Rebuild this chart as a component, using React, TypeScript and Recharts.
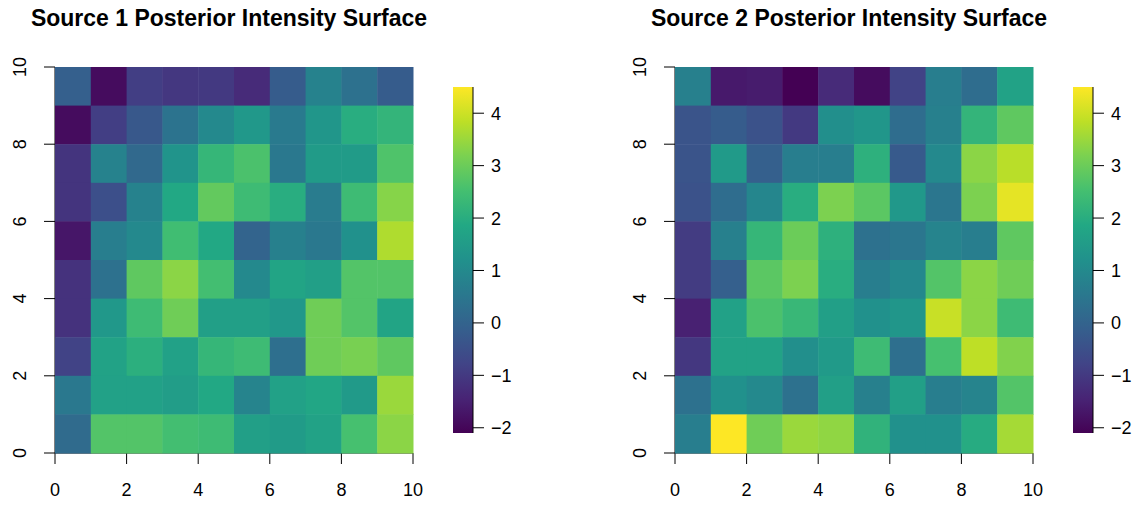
import React from "react";
import { Bar, BarChart, Scatter, ScatterChart, XAxis, YAxis } from "recharts";

// grid values, rows listed from top (y = 9) down to bottom (y = 0), columns x = 0..9
const source1Rows = [
  [-0.1, -1.9, -0.9, -1.05, -1.0, -1.3, -0.2, 0.8, 0.35, -0.2],
  [-1.9, -0.9, -0.3, 0.4, 1.0, 1.4, 0.6, 1.35, 2.0, 2.2],
  [-1.1, 0.8, 0.15, 1.3, 2.25, 2.6, 0.55, 1.5, 1.5, 2.65],
  [-1.1, -0.5, 0.8, 1.85, 2.9, 2.4, 2.0, 0.65, 2.4, 3.3],
  [-1.7, 0.7, 1.0, 2.45, 1.85, 0.0, 0.75, 0.55, 1.2, 3.7],
  [-1.15, 0.35, 2.85, 3.35, 2.5, 1.0, 1.75, 1.6, 2.7, 2.7],
  [-1.15, 1.4, 2.4, 3.05, 1.6, 1.6, 1.4, 3.05, 2.7, 1.75],
  [-0.8, 1.7, 2.05, 1.65, 2.25, 2.4, 0.3, 3.05, 3.15, 2.85],
  [0.55, 1.65, 1.65, 1.55, 1.85, 0.85, 1.65, 1.8, 1.45, 3.5],
  [0.2, 2.7, 2.7, 2.5, 2.4, 1.6, 1.5, 1.7, 2.55, 3.35],
];

const source2Rows = [
  [0.75, -1.65, -1.6, -2.1, -1.3, -1.9, -0.8, 0.7, 0.25, 1.7],
  [-0.4, -0.2, -0.45, -1.0, 1.15, 1.35, 0.25, 0.75, 2.2, 2.85],
  [-0.4, 1.45, -0.1, 0.7, 0.7, 2.1, -0.25, 1.0, 3.35, 3.8],
  [-0.45, 0.25, 0.9, 2.0, 3.2, 2.8, 1.4, 0.5, 3.2, 4.25],
  [-0.95, 0.75, 2.25, 3.0, 2.1, 0.35, 0.5, 0.85, 0.7, 2.85],
  [-0.95, -0.1, 2.8, 3.2, 2.0, 0.7, 0.95, 2.7, 3.35, 3.05],
  [-1.5, 1.65, 2.6, 2.3, 1.6, 1.2, 1.35, 3.95, 3.35, 2.4],
  [-1.05, 1.7, 1.7, 1.15, 1.45, 2.4, 0.3, 2.55, 3.85, 3.25],
  [0.35, 1.2, 1.0, 0.35, 1.6, 0.75, 1.6, 0.7, 0.85, 2.7],
  [0.7, 4.5, 3.05, 3.5, 3.4, 2.15, 1.2, 1.2, 1.95, 3.6],
];

const axisTicks = [0, 2, 4, 6, 8, 10];
const legendTicks = [-2, -1, 0, 1, 2, 3, 4];
const titles = [
  "Source 1 Posterior Intensity Surface",
  "Source 2 Posterior Intensity Surface",
];

const viridis = [
  "#440154", "#482475", "#414487", "#355f8d", "#2a788e", "#21918c",
  "#22a884", "#44bf70", "#7ad151", "#bddf26", "#fde725",
];

const allValues = [...source1Rows.flat(), ...source2Rows.flat()];
const zMin = Math.min(...allValues);
const zMax = Math.max(...allValues);

const FONT = "'Liberation Sans', Arial, sans-serif";
const W = 500;
const H = 506;
const PLOT_L = 55;
const PLOT_R = 413;
const PLOT_T = 67;
const PLOT_B = 453;
const cellW = (PLOT_R - PLOT_L) / 10;
const cellH = (PLOT_B - PLOT_T) / 10;
const BAR_W = 21;

function hexToRgb(h: string) {
  const n = parseInt(h.slice(1), 16);
  return [(n >> 16) & 255, (n >> 8) & 255, n & 255];
}

function colorFor(v: number) {
  const t = Math.max(0, Math.min(1, (v - zMin) / (zMax - zMin)));
  const p = t * (viridis.length - 1);
  const i = Math.min(viridis.length - 2, Math.floor(p));
  const f = p - i;
  const a = hexToRgb(viridis[i]);
  const b = hexToRgb(viridis[i + 1]);
  const c = a.map((x, k) => Math.round(x + (b[k] - x) * f));
  return `rgb(${c[0]},${c[1]},${c[2]})`;
}

function toPoints(rows: number[][]) {
  const pts: { x: number; y: number; z: number }[] = [];
  rows.forEach((row, r) => {
    row.forEach((z, c) => {
      pts.push({ x: c + 0.5, y: 9 - r + 0.5, z });
    });
  });
  return pts;
}

const CellShape = (props: any) => {
  const { cx, cy, payload } = props;
  return (
    <rect
      x={cx - cellW / 2}
      y={cy - cellH / 2}
      width={cellW + 0.5}
      height={cellH + 0.5}
      fill={colorFor(payload.z)}
    />
  );
};

const RotatedTick = (props: any) => {
  const { x, y, payload } = props;
  return (
    <text
      x={x}
      y={y}
      transform={`rotate(-90 ${x} ${y})`}
      textAnchor="middle"
      fontSize={18}
      fontFamily={FONT}
      fill="#000"
    >
      {payload.value}
    </text>
  );
};

const LegendTick = (props: any) => {
  const { x, y, payload } = props;
  const label = payload.value < 0 ? `\u2212${Math.abs(payload.value)}` : `${payload.value}`;
  return (
    <text x={x} y={y} dy={6.5} textAnchor="start" fontSize={18} fontFamily={FONT} fill="#000">
      {label}
    </text>
  );
};

function Panel({ rows, title, left, gradId }: { rows: number[][]; title: string; left: number; gradId: string }) {
  const points = toPoints(rows);
  return (
    <div style={{ position: "absolute", left, top: 0, width: 573, height: H }}>
      <div
        style={{
          position: "absolute",
          left: 0,
          top: 7,
          width: 458,
          textAlign: "center",
          fontFamily: FONT,
          fontWeight: "bold",
          fontSize: 23,
          lineHeight: "23px",
          color: "#000",
          whiteSpace: "nowrap",
        }}
      >
        {title}
      </div>
      <div style={{ position: "absolute", left: 0, top: 0 }}>
        <ScatterChart
          width={W}
          height={H}
          margin={{ top: PLOT_T, bottom: H - PLOT_B - 40, left: PLOT_L - 45, right: W - PLOT_R }}
        >
          <XAxis
            type="number"
            dataKey="x"
            domain={[0, 10]}
            ticks={axisTicks}
            height={40}
            tickSize={11}
            tickMargin={19}
            stroke="#000"
            tick={{ fill: "#000", fontSize: 18, fontFamily: FONT }}
          />
          <YAxis
            type="number"
            dataKey="y"
            domain={[0, 10]}
            ticks={axisTicks}
            width={45}
            tickSize={11}
            tickMargin={18}
            stroke="#000"
            tick={<RotatedTick />}
          />
          <Scatter data={points} shape={<CellShape />} isAnimationActive={false} />
        </ScatterChart>
      </div>
      <div style={{ position: "absolute", left: 440, top: 0 }}>
        <BarChart
          width={110}
          height={H}
          data={[{ name: "z", range: [zMin, zMax] }]}
          margin={{ top: 87, bottom: H - 433, left: 12, right: 110 - 12 - BAR_W - 60 }}
          barCategoryGap={0}
        >
          <defs>
            <linearGradient id={gradId} x1="0" y1="1" x2="0" y2="0">
              {viridis.map((c, i) => (
                <stop key={i} offset={`${(i / (viridis.length - 1)) * 100}%`} stopColor={c} />
              ))}
            </linearGradient>
          </defs>
          <XAxis dataKey="name" hide />
          <YAxis
            orientation="right"
            type="number"
            domain={[zMin, zMax]}
            ticks={legendTicks}
            allowDataOverflow
            width={60}
            tickSize={11}
            tickMargin={7}
            stroke="#000"
            tick={<LegendTick />}
          />
          <Bar
            dataKey="range"
            barSize={BAR_W - 1}
            fill={`url(#${gradId})`}
            isAnimationActive={false}
          />
        </BarChart>
      </div>
    </div>
  );
}

export default function App() {
  return (
    <div style={{ position: "absolute", left: 0, top: 0, width: 1146, height: H, background: "#fff" }}>
      <Panel rows={source1Rows} title={titles[0]} left={0} gradId="vir1" />
      <Panel rows={source2Rows} title={titles[1]} left={620} gradId="vir2" />
    </div>
  );
}
